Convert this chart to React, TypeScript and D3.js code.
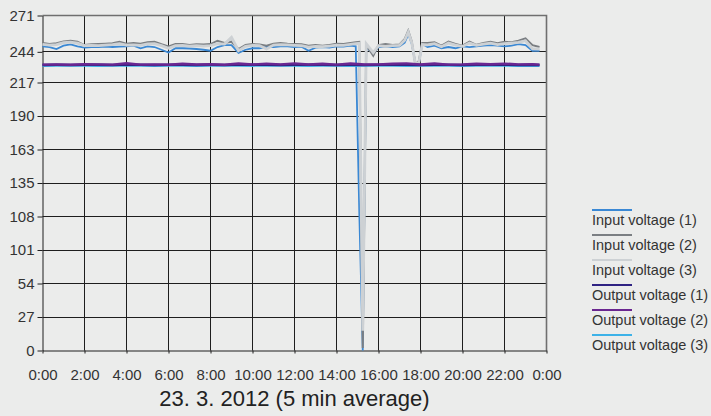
import React, { useEffect, useRef } from "react";
import * as d3 from "d3";

// 5 min averages (minutes from midnight)
const minutes = [
  0, 20, 40, 60, 80, 100, 120, 140, 160, 180,
  200, 220, 240, 260, 280, 300, 320, 340, 360, 380,
  400, 420, 440, 460, 480, 500, 520, 540, 560, 580,
  600, 620, 640, 660, 680, 700, 720, 740, 760, 780,
  800, 820, 840, 860, 880, 895, 905, 915, 925, 945,
  960, 980, 1000, 1020, 1035, 1045, 1055, 1065, 1075, 1085,
  1100, 1120, 1140, 1160, 1180, 1200, 1220, 1240, 1260, 1280,
  1300, 1320, 1340, 1360, 1380, 1400, 1420,
];

const inputV1 = [
  246.0, 245.5, 243.9, 246.6, 247.7, 246.0, 245.0, 245.5, 245.5, 245.8,
  245.5, 245.8, 246.0, 246.6, 244.5, 246.0, 245.5, 243.3, 241.0, 244.5,
  244.5, 244.3, 243.9, 243.3, 242.5, 245.5, 247.1, 247.1, 240.7, 243.3,
  244.5, 244.5, 245.5, 245.5, 246.0, 246.0, 245.5, 245.8, 242.5, 245.0,
  245.5, 245.0, 246.0, 245.8, 246.6, 246.0, 113.0, 0, 245.5, 239.8,
  245.5, 246.0, 245.5, 246.0, 249.0, 255.8, 248.0, 233.0, 231.5, 247.9,
  245.5, 246.6, 244.5, 245.5, 244.5, 246.0, 245.5, 246.0, 246.6, 247.1,
  246.6, 246.0, 246.6, 247.9, 247.1, 242.5, 242.5,
];

const inputV2 = [
  248.7, 247.9, 248.6, 250.0, 250.6, 249.8, 247.1, 247.7, 247.9, 248.2,
  248.5, 249.8, 248.2, 248.7, 248.2, 249.3, 249.8, 247.7, 246.0, 247.9,
  247.9, 247.1, 247.7, 247.5, 247.9, 250.6, 248.7, 249.8, 243.9, 247.1,
  247.9, 247.5, 246.6, 248.2, 248.7, 248.2, 247.9, 247.7, 246.6, 247.1,
  246.6, 247.1, 248.2, 247.9, 248.7, 249.3, 249.6, 2.0, 247.0, 238.5,
  247.1, 247.9, 247.1, 247.5, 252.0, 258.7, 250.0, 232.0, 234.0, 248.7,
  248.7, 249.3, 246.6, 249.8, 248.0, 246.6, 249.8, 247.3, 248.7, 249.8,
  248.5, 249.8, 249.3, 250.6, 252.5, 247.0, 245.5,
];

const inputV3 = [
  247.7, 247.0, 247.5, 249.0, 249.5, 248.7, 246.6, 246.9, 246.6, 247.1,
  247.5, 248.2, 247.1, 247.3, 246.9, 248.0, 248.2, 246.6, 244.5, 246.6,
  246.9, 246.3, 246.6, 246.3, 246.6, 248.2, 247.9, 253.3, 242.5, 246.0,
  246.9, 246.6, 243.9, 247.1, 247.5, 247.3, 246.9, 246.6, 245.5, 246.0,
  245.8, 246.3, 247.1, 246.9, 247.7, 248.2, 248.5, 16.0, 248.2, 241.0,
  246.6, 246.0, 246.6, 246.9, 251.0, 257.5, 249.0, 232.5, 232.5, 247.5,
  247.3, 248.2, 245.8, 248.7, 247.1, 246.0, 248.7, 246.9, 247.9, 248.7,
  247.5, 248.2, 248.7, 249.3, 250.6, 244.0, 243.9,
];

const outMinutes = [
  0, 40, 80, 120, 160, 200, 240, 280, 320, 360,
  400, 440, 480, 520, 560, 600, 640, 680, 720, 760,
  800, 840, 880, 920, 960, 1000, 1040, 1080, 1120, 1160,
  1200, 1240, 1280, 1320, 1360, 1400, 1420,
];

const outputV1 = [
  231.0, 231.1, 231.0, 231.2, 231.1, 231.0, 231.3, 231.1, 231.0, 231.1,
  231.2, 231.0, 231.1, 231.0, 231.3, 231.1, 231.2, 231.0, 231.2, 231.1,
  231.2, 231.0, 231.1, 231.0, 231.1, 231.2, 231.2, 231.0, 231.2, 231.1,
  231.0, 231.2, 231.1, 231.1, 231.0, 231.1, 231.0,
];

const outputV2 = [
  231.3, 231.4, 231.2, 231.6, 231.5, 231.3, 232.4, 231.3, 231.5, 231.2,
  232.0, 231.4, 231.6, 231.2, 232.2, 231.4, 232.1, 231.5, 232.3, 231.4,
  232.0, 231.3, 232.2, 231.4, 231.5, 232.0, 232.3, 231.4, 232.2, 231.3,
  231.5, 232.0, 231.6, 232.1, 231.5, 231.6, 231.3,
];

const outputV3 = [
  230.4, 230.5, 230.6, 230.5, 230.4, 230.6, 230.5, 230.5, 230.4, 230.6,
  230.5, 230.4, 230.5, 230.6, 230.5, 230.4, 230.5, 230.5, 230.6, 230.4,
  230.5, 230.5, 230.4, 230.6, 230.5, 230.5, 230.4, 230.5, 230.6, 230.5,
  230.4, 230.5, 230.5, 230.6, 230.4, 230.5, 230.4,
];

const seriesNames = [
  "Input voltage (1)",
  "Input voltage (2)",
  "Input voltage (3)",
  "Output voltage (1)",
  "Output voltage (2)",
  "Output voltage (3)",
];
const seriesColors = ["#3a88d4", "#7b7f83", "#cdd1d4", "#2f2383", "#6a2690", "#3db2e8"];

const yTickValues = [0, 27.1, 54.2, 81.3, 108.4, 135.5, 162.6, 189.7, 216.8, 241.6, 271];
const yTickLabels = ["0", "27", "54", "101", "108", "135", "163", "190", "217", "244", "271"];
const xTickValues = [0, 120, 240, 360, 480, 600, 720, 840, 960, 1080, 1200, 1320, 1440];
const xTickLabels = [
  "0:00", "2:00", "4:00", "6:00", "8:00", "10:00", "12:00",
  "14:00", "16:00", "18:00", "20:00", "22:00", "0:00",
];
const title = "23. 3. 2012 (5 min average)";

const App = () => {
  const svgRef = useRef<SVGSVGElement>(null);

  useEffect(() => {
    const width = 711;
    const height = 416;
    const left = 42.5;
    const right = 546.5;
    const top = 15.5;
    const bottom = 350.5;
    const font = "'Liberation Sans', Arial, sans-serif";
    const crisp = (v: number) => Math.round(v - 0.5) + 0.5;

    const svg = d3.select(svgRef.current);
    svg.selectAll("*").remove();
    svg.attr("width", width).attr("height", height);

    svg.append("rect").attr("width", width).attr("height", height).attr("fill", "#ebeceb");

    const x = d3.scaleLinear().domain([0, 1440]).range([left, right]);
    const y = d3.scaleLinear().domain([0, 271]).range([bottom, top]);

    // grid
    const grid = svg.append("g").attr("stroke", "#1e1e1e").attr("stroke-width", 1);
    grid
      .selectAll("line.h")
      .data(yTickValues.slice(1, -1))
      .join("line")
      .attr("class", "h")
      .attr("x1", left)
      .attr("x2", right)
      .attr("y1", (d) => crisp(y(d)))
      .attr("y2", (d) => crisp(y(d)));
    grid
      .selectAll("line.v")
      .data(xTickValues.slice(1, -1))
      .join("line")
      .attr("class", "v")
      .attr("y1", top)
      .attr("y2", bottom)
      .attr("x1", (d) => crisp(x(d)))
      .attr("x2", (d) => crisp(x(d)));

    // frame top / right
    svg
      .append("path")
      .attr("d", `M${left},${top}H${right}V${bottom}`)
      .attr("fill", "none")
      .attr("stroke", "#6f6f6f")
      .attr("stroke-width", 1.6);

    // axes
    const yAxis = svg
      .append("g")
      .attr("transform", `translate(${left},0)`)
      .attr("color", "#1e1e1e")
      .call(
        d3
          .axisLeft(y)
          .tickValues(yTickValues)
          .tickFormat((_, i) => yTickLabels[i])
          .tickSize(5)
          .tickSizeOuter(0)
          .tickPadding(3)
      );
    yAxis.selectAll("text").attr("fill", "#333").style("font", `15px ${font}`);

    const xAxis = svg
      .append("g")
      .attr("transform", `translate(0,${bottom})`)
      .attr("color", "#1e1e1e")
      .call(
        d3
          .axisBottom(x)
          .tickValues(xTickValues)
          .tickFormat((_, i) => xTickLabels[i])
          .tickSize(3)
          .tickSizeOuter(0)
          .tickPadding(16)
      );
    xAxis.selectAll("text").attr("fill", "#333").style("font", `15px ${font}`);

    // lines
    const inputs = [inputV1, inputV2, inputV3];
    const outputs = [outputV1, outputV2, outputV3];
    const inputLine = d3
      .line<number>()
      .x((_, i) => x(minutes[i]))
      .y((d) => y(d));
    const outputLine = d3
      .line<number>()
      .x((_, i) => x(outMinutes[i]))
      .y((d) => y(d));

    const inWidths = [1.8, 2, 2.8];
    inputs.forEach((vals, i) => {
      svg
        .append("path")
        .datum(vals)
        .attr("d", inputLine)
        .attr("fill", "none")
        .attr("stroke", seriesColors[i])
        .attr("stroke-width", inWidths[i])
        .attr("stroke-linejoin", "miter");
    });

    // light blue output sits underneath the purple ones
    [2, 0, 1].forEach((k) => {
      svg
        .append("path")
        .datum(outputs[k])
        .attr("d", outputLine)
        .attr("fill", "none")
        .attr("stroke", seriesColors[3 + k])
        .attr("stroke-width", 2.4);
    });

    // title
    svg
      .append("text")
      .attr("x", (left + right) / 2)
      .attr("y", 406)
      .attr("text-anchor", "middle")
      .attr("fill", "#222")
      .style("font", `22px ${font}`)
      .text(title);

    // legend
    const legend = svg
      .append("g")
      .selectAll("g")
      .data(seriesNames)
      .join("g")
      .attr("transform", (_, i) => `translate(592,${210 + i * 25})`);
    legend
      .append("line")
      .attr("x1", 0)
      .attr("x2", 40)
      .attr("stroke", (_, i) => seriesColors[i])
      .attr("stroke-width", 2.2);
    legend
      .append("text")
      .attr("y", 15)
      .attr("fill", "#333")
      .style("font", `14.5px ${font}`)
      .text((d) => d);
  }, []);

  return <svg ref={svgRef} style={{ position: "absolute", left: 0, top: 0 }}></svg>;
};

export default App;
